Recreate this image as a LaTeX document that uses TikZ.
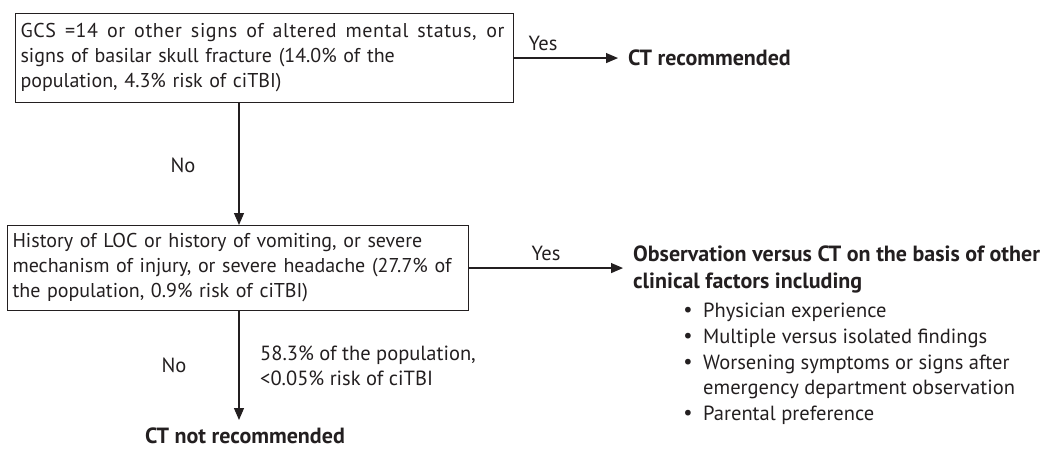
\documentclass[tikz,border=0pt]{standalone}
\usepackage{fontspec}
\setmainfont{PT Sans}
\usetikzlibrary{arrows.meta}
\definecolor{ink}{HTML}{231F20}
% a slightly tracked line whose interword spaces spread to fill the given width
\newcommand{\spreadline}[2]{\hbox to #1{\addfontfeature{LetterSpace=3}\spaceskip=0.28em plus 1fil\relax #2}}
\begin{document}
\begin{tikzpicture}[x=1pt,y=1pt,
  every node/.style={text=ink, font=\fontsize{20.5}{25.5}\selectfont},
  decision/.style={draw=ink, line width=1.1pt, align=left, inner xsep=5pt, inner ysep=0pt,
                   anchor=north west, font=\fontsize{20}{25}\selectfont},
  flow/.style={draw=ink, line width=1.2pt, -{Triangle[length=12pt,width=10pt]}},
  lbl/.style={inner sep=0pt},
  outcome/.style={inner sep=0pt, font=\fontsize{22}{27}\selectfont\bfseries, align=left},
  bullet/.style={inner sep=0pt, anchor=west}
]
\useasboundingbox (0,0) rectangle (1047,-448);

% decision boxes
\node[decision, minimum width=498pt, minimum height=89pt, text width=488pt] (q1) at (15,-13)
  {\spreadline{484pt}{GCS =14 or other signs of altered mental status, or}\\
   signs of basilar skull fracture (14.0\% of the\\
   population, 4.3\% risk of ciTBI)};
\node[decision, minimum width=461pt, minimum height=85pt, text width=451pt] (q2) at (7,-225)
  {History of LOC or history of vomiting, or severe\\
   mechanism of injury, or severe headache (27.7\% of\\
   the population, 0.9\% risk of ciTBI)};

% outcomes
\node[outcome, anchor=west] (ctyes) at (628,-58) {CT recommended};
\node[outcome, anchor=west] (obs) at (633,-269)
  {Observation versus CT on the basis of other\\clinical factors including};
\node[outcome, anchor=center] (ctno) at (245,-436) {CT not recommended};

% bullet list of clinical factors
\foreach \t/\y [count=\i] in {Physician experience/312,
                               Multiple versus isolated findings/338,
                               Worsening symptoms or signs after/364,
                               emergency department observation/389,
                               Parental preference/415}{
  \node[bullet] (f\i) at (703,-\y) {\t};
}
\foreach \i in {1,2,3,5}{
  \node[bullet, anchor=center] (b\i) at (688,0 |- f\i.center) {\textbullet};
}

% connectors
\coordinate (t1) at (618,0 |- q1.east);
\coordinate (t2) at (623,0 |- q2.east);
\coordinate (t3) at (239,-420);
\draw[flow] (q1.east) -- (t1);
\draw[flow] (q2.east) -- (t2);
\draw[flow] (239,0 |- q1.south) -- (239,0 |- q2.north);
\draw[flow] (239,0 |- q2.south) -- (t3);

% connector labels
\node[lbl] (y1) at (543,-43) {Yes};
\node[lbl] (y2) at (546,-253) {Yes};
\node[lbl] (n1) at (183,-165) {No};
\node[lbl] (n2) at (174,-365) {No};
\node[lbl, anchor=west, align=left] (p3) at (260,-366)
  {58.3\% of the population,\\<0.05\% risk of ciTBI};
\end{tikzpicture}
\end{document}
